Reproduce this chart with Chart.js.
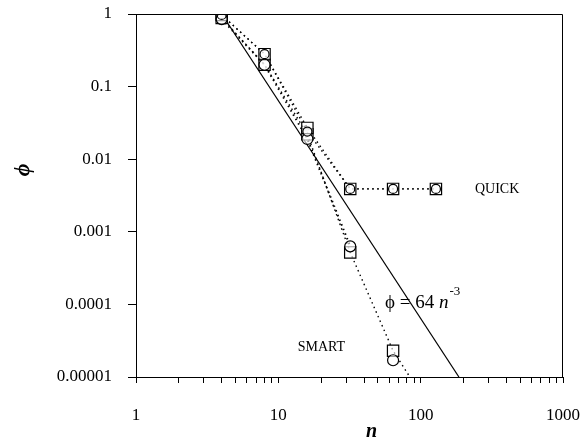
<!DOCTYPE html>
<html lang="en">
<head>
<meta charset="UTF-8">
<title>phi against n</title>
<script src="https://cdn.jsdelivr.net/npm/chart.js"></script>
<style>
  body { margin: 0; background: #fff; }
  #wrap { width: 586px; height: 444px; }
</style>
</head>
<body>
<div id="wrap"><canvas id="phiChart" width="586" height="444"></canvas></div>
<script>
// run sizes and measured phi values
const nQuick = [4, 8, 16, 32, 64, 128];
const quickSquare = [0.97, 0.28, 0.027, 0.0039, 0.0039, 0.0039];
const quickCircle = [0.97, 0.28, 0.024, 0.0039, 0.0039, 0.0039];

const nSmart = [4, 8, 16, 32, 64];
const smartSquare = [0.88, 0.2, 0.022, 0.00052, 0.000023];
const smartCircle = [0.85, 0.2, 0.019, 0.00063, 0.000017];

// dotted trend of SMART runs, carried on to the bottom axis
const smartTrendN = [4, 8, 16, 32, 64, 84];
const smartTrendPhi = [0.88, 0.2, 0.022, 0.00052, 0.000023, 0.00001];

// phi = 64 n^-3 between n = 4 and the bottom of the plot
const fitN = [4, 185.7];
const fitPhi = [1, 0.00001];

// axis ticks
const xMajor = [1, 10, 100, 1000];
const xTickLabels = ['1', '10', '100', '1000'];
const yMajor = [0.00001, 0.0001, 0.001, 0.01, 0.1, 1];
const yTickLabels = ['0.00001', '0.0001', '0.001', '0.01', '0.1', '1'];

const SERIF = '"Liberation Serif", "Times New Roman", serif';

function pts(xs, ys) {
  return xs.map((x, i) => ({ x: x, y: ys[i] }));
}

// minor ticks on x: 1..9 in every decade
const xAllTicks = [];
for (let d = 1; d < 1000; d *= 10) {
  for (let k = 1; k < 10; k++) xAllTicks.push(k * d);
}
xAllTicks.push(1000);

const dotted = {
  type: 'line',
  borderColor: '#000',
  borderWidth: 1.4,
  borderDash: [1.5, 3.5],
  pointRadius: 0,
  fill: false,
  tension: 0
};

const marker = {
  type: 'scatter',
  showLine: false,
  borderColor: '#000',
  borderWidth: 1.2,
  backgroundColor: 'rgba(255,255,255,0.6)'
};

// frame on top/right, axis titles and annotations
const decorations = {
  id: 'decorations',
  afterDraw(chart) {
    const { ctx, chartArea: a } = chart;
    const xs = chart.scales.x, ys = chart.scales.y;
    ctx.save();
    ctx.strokeStyle = '#000';
    ctx.lineWidth = 1;
    ctx.beginPath();
    ctx.moveTo(a.left, a.top + 0.5);
    ctx.lineTo(a.right - 0.5, a.top + 0.5);
    ctx.lineTo(a.right - 0.5, a.bottom);
    ctx.stroke();

    ctx.fillStyle = '#000';
    ctx.textBaseline = 'middle';

    // series names
    ctx.font = '14px ' + SERIF;
    ctx.textAlign = 'left';
    ctx.fillText('QUICK', xs.getPixelForValue(128) + 39, ys.getPixelForValue(0.0039));
    ctx.textAlign = 'right';
    ctx.fillText('SMART', xs.getPixelForValue(64) - 48, ys.getPixelForValue(0.000026));

    // fit label
    ctx.textAlign = 'left';
    let x = 385, y = 303;
    ctx.font = '19px ' + SERIF;
    ctx.fillText('\u03D5 = 64 ', x, y);
    x += ctx.measureText('\u03D5 = 64 ').width;
    ctx.font = 'italic 19px ' + SERIF;
    ctx.fillText('n', x, y);
    x += ctx.measureText('n').width + 1;
    ctx.font = '13px ' + SERIF;
    ctx.fillText('-3', x, y - 11);

    // axis titles
    ctx.font = 'bold italic 20px ' + SERIF;
    ctx.textAlign = 'center';
    ctx.fillText('n', (a.left + a.right) / 2 + 22, 432);
    ctx.translate(23, 170);
    ctx.rotate(-Math.PI / 2);
    ctx.font = 'bold italic 22px ' + SERIF;
    ctx.fillText('\u03D5', 0, 0);
    ctx.restore();
  }
};

new Chart(document.getElementById('phiChart').getContext('2d'), {
  data: {
    datasets: [
      Object.assign({}, marker, { data: pts(nQuick, quickCircle), pointStyle: 'circle', pointRadius: 4.5 }),
      Object.assign({}, marker, { data: pts(nSmart, smartCircle), pointStyle: 'circle', pointRadius: 5.5 }),
      Object.assign({}, marker, { data: pts(nQuick, quickSquare), pointStyle: 'rect', pointRadius: 8 }),
      Object.assign({}, marker, { data: pts(nSmart, smartSquare), pointStyle: 'rect', pointRadius: 8 }),
      Object.assign({}, dotted, { data: pts(nQuick, quickSquare) }),
      Object.assign({}, dotted, { data: pts(nQuick, quickCircle) }),
      Object.assign({}, dotted, { data: pts(smartTrendN, smartTrendPhi) }),
      Object.assign({}, dotted, { data: pts(nSmart.slice(0, 4), smartCircle.slice(0, 4)), borderWidth: 2 }),
      { type: 'line', data: pts(fitN, fitPhi), borderColor: '#000', borderWidth: 1.2, pointRadius: 0, fill: false }
    ]
  },
  options: {
    responsive: false,
    animation: false,
    devicePixelRatio: 1,
    layout: { autoPadding: false, padding: { top: 14, right: 23, left: 0, bottom: 0 } },
    plugins: { legend: { display: false }, tooltip: { enabled: false } },
    scales: {
      x: {
        type: 'logarithmic',
        min: 1,
        max: 1000,
        afterBuildTicks: s => { s.ticks = xAllTicks.map(v => ({ value: v })); },
        afterFit: s => { s.height = 67; s.paddingLeft = 0; s.paddingRight = 0; },
        border: { color: '#000', width: 1 },
        grid: { drawOnChartArea: false, drawTicks: true, tickLength: 6, color: '#000' },
        ticks: {
          autoSkip: false,
          maxRotation: 0,
          padding: 22,
          color: '#000',
          font: { family: SERIF, size: 17 },
          callback: v => {
            const i = xMajor.indexOf(v);
            return i >= 0 ? xTickLabels[i] : '';
          }
        }
      },
      y: {
        type: 'logarithmic',
        min: 0.00001,
        max: 1,
        afterBuildTicks: s => { s.ticks = yMajor.map(v => ({ value: v })); },
        afterFit: s => { s.width = 136; s.paddingTop = 0; s.paddingBottom = 0; },
        border: { color: '#000', width: 1 },
        grid: { drawOnChartArea: false, drawTicks: true, tickLength: 8, color: '#000' },
        ticks: {
          padding: 16,
          color: '#000',
          font: { family: SERIF, size: 17 },
          callback: v => {
            const i = yMajor.findIndex(m => Math.abs(m - v) / m < 1e-6);
            return i >= 0 ? yTickLabels[i] : '';
          }
        }
      }
    }
  },
  plugins: [decorations]
});
</script>
</body>
</html>
